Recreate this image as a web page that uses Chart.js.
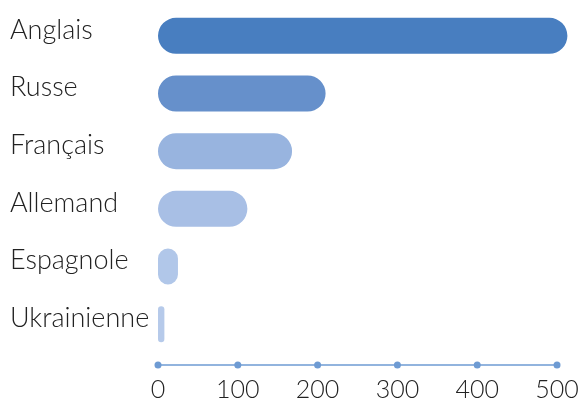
<!DOCTYPE html>
<html>
<head>
<meta charset="utf-8">
<script src="https://cdn.jsdelivr.net/npm/chart.js@4.4.1/dist/chart.umd.min.js"></script>
<style>
  html, body { margin: 0; padding: 0; background: #fff; }
  #wrap { width: 582px; height: 401px; }
</style>
</head>
<body>
<div id="wrap"><canvas id="myChart"></canvas></div>
<script>
const languages = ["Anglais", "Russe", "Français", "Allemand", "Espagnole", "Ukrainienne"];
const speakers = [513, 210, 168, 112, 25, 8];
const barColors = ["#487EC0", "#6690CB", "#98B4DF", "#A8BFE5", "#B1C7E9", "#B6CAEA"];
const xTicks = [0, 100, 200, 300, 400, 500];

const clrAxis = '#6E9BD3';
const clrText = '#222222';

// axis line with dots on each tick
const dotAxis = {
	id: 'dotAxis',
	afterDraw(chart) {
		const ctx = chart.ctx;
		const xs = chart.scales.x;
		const y = xs.top + 12;
		ctx.save();
		ctx.strokeStyle = clrAxis;
		ctx.fillStyle = clrAxis;
		ctx.lineWidth = 1.5;
		ctx.beginPath();
		ctx.moveTo(xs.getPixelForValue(xTicks[0]), y);
		ctx.lineTo(xs.getPixelForValue(xTicks[xTicks.length - 1]), y);
		ctx.stroke();
		xTicks.forEach(function(v) {
			ctx.beginPath();
			ctx.arc(xs.getPixelForValue(v), y, 3.5, 0, Math.PI * 2);
			ctx.fill();
		});
		ctx.restore();
	}
};

let chart = new Chart('myChart', {
	type: 'bar',
	data: {
		labels: languages,
		datasets: [{
			data: speakers,
			backgroundColor: barColors,
			borderRadius: 100,
			borderSkipped: false,
			categoryPercentage: 0.625,
			barPercentage: 1
		}]
	},
	options: {
		indexAxis: 'y',
		responsive: true,
		maintainAspectRatio: false,
		animation: false,
		layout: {
			padding: { left: 10, right: 13, top: 7, bottom: 0 }
		},
		scales: {
			x: {
				min: 0,
				max: 515,
				grid: { display: false, drawTicks: false },
				border: { display: false },
				afterBuildTicks: function(scale) {
					scale.ticks = xTicks.map(function(v) { return { value: v }; });
				},
				afterFit: function(scale) {
					scale.height = 48;
					scale.paddingRight = 0;
					scale.paddingLeft = 0;
				},
				ticks: {
					padding: 22,
					color: clrText,
					maxRotation: 0,
					font: { family: 'Lato', size: 25, weight: '300' }
				}
			},
			y: {
				grid: { display: false, drawTicks: false },
				border: { display: false },
				afterFit: function(scale) {
					scale.width = 148;
					scale.paddingTop = 0;
					scale.paddingBottom = 0;
				},
				ticks: {
					crossAlign: 'far',
					padding: 0,
					labelOffset: -6,
					color: clrText,
					font: { family: 'Lato', size: 27, weight: '300' }
				}
			}
		},
		plugins: {
			legend: { display: false },
			tooltip: { enabled: false }
		}
	},
	plugins: [dotAxis]
});
</script>
</body>
</html>
